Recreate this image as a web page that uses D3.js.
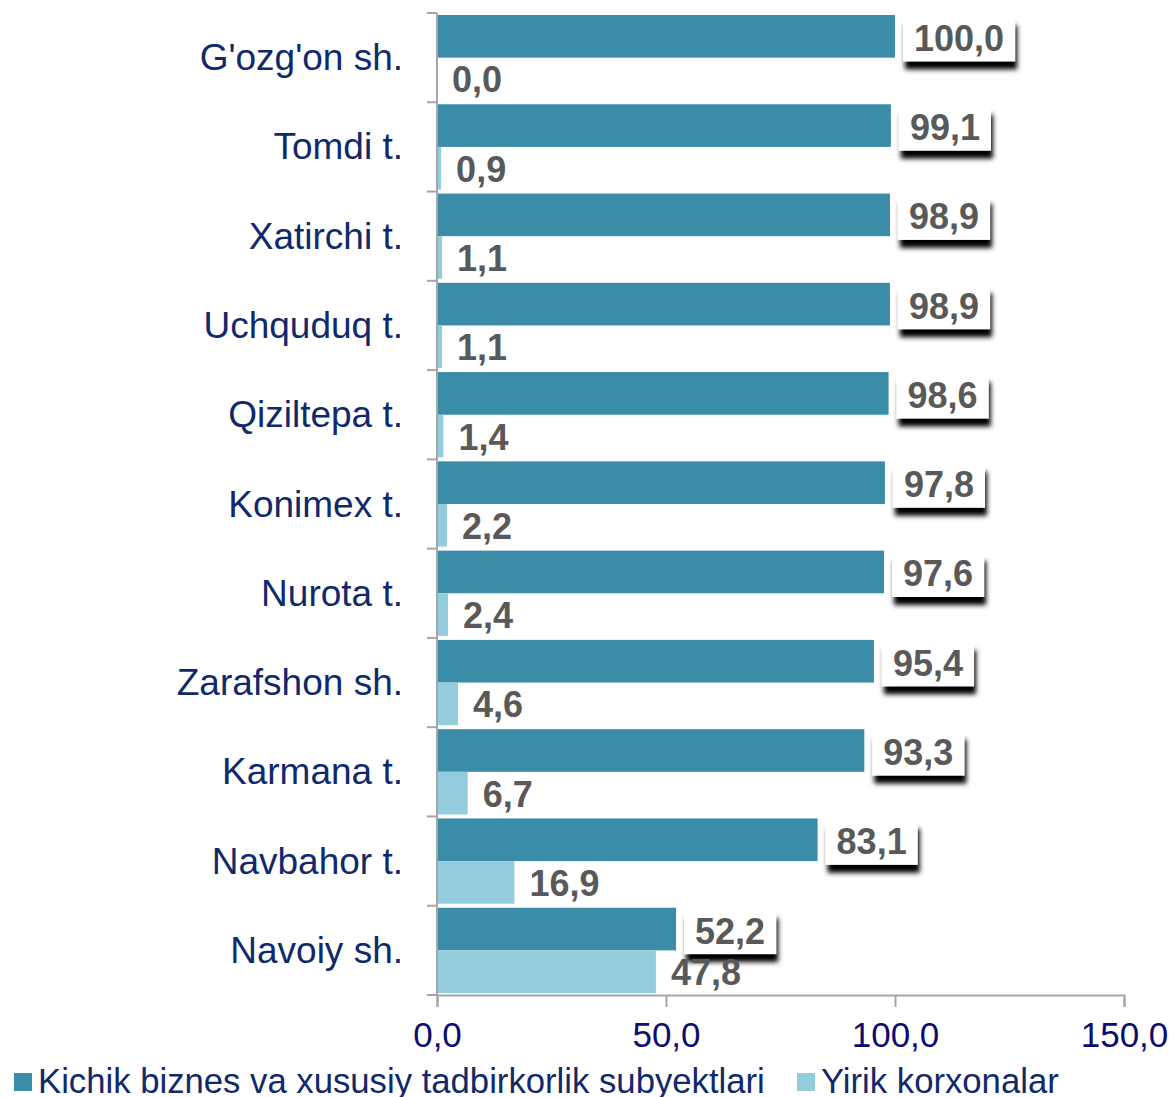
<!DOCTYPE html>
<html>
<head>
<meta charset="utf-8">
<script src="https://cdn.jsdelivr.net/npm/d3@7"></script>
<style>
  body { margin: 0; background: #fff; }
  svg { display: block; font-family: Arial, "Liberation Sans", sans-serif; }
</style>
</head>
<body>
<div id="chart"></div>
<script>
// de waarden uit de grafiek
const categories = ["G'ozg'on sh.", "Tomdi t.", "Xatirchi t.", "Uchquduq t.", "Qiziltepa t.",
  "Konimex t.", "Nurota t.", "Zarafshon sh.", "Karmana t.", "Navbahor t.", "Navoiy sh."];
const smallBiz = [100.0, 99.1, 98.9, 98.9, 98.6, 97.8, 97.6, 95.4, 93.3, 83.1, 52.2];
const largeEnt = [0.0, 0.9, 1.1, 1.1, 1.4, 2.2, 2.4, 4.6, 6.7, 16.9, 47.8];
const seriesNames = ["Kichik biznes va xususiy tadbirkorlik subyektlari", "Yirik korxonalar"];
const xTicks = [0, 50, 100, 150];

const width = 1174, height = 1097;
const colors = ["#3a8ca7", "#93cddd"];
const fmt = d => d.toFixed(1).replace(".", ",");

const svg = d3.select("#chart").append("svg")
    .attr("width", width)
    .attr("height", height);

// schaduw voor de witte labels
const defs = svg.append("defs");
const filter = defs.append("filter").attr("id", "shadow")
    .attr("x", "-20%").attr("y", "-20%").attr("width", "150%").attr("height", "180%");
filter.append("feDropShadow")
    .attr("dx", 2).attr("dy", 8).attr("stdDeviation", 2.5)
    .attr("flood-color", "#000").attr("flood-opacity", 1);

// schalen
const xScale = d3.scaleLinear().domain([0, 150]).range([437, 1124]);
const yScale = d3.scaleBand().domain(categories).range([13, 995]).padding(0);
const sub = d3.scaleBand().domain([0, 1]).range([2, yScale.bandwidth() - 2]).padding(0);

// x-as
const xAxis = svg.append("g")
    .attr("transform", "translate(0,995)")
    .call(d3.axisBottom(xScale).tickValues(xTicks).tickSize(12).tickPadding(15).tickFormat(fmt));
xAxis.select(".domain").attr("stroke", "#a6a6a6").attr("stroke-width", 2);
xAxis.selectAll(".tick line").attr("stroke", "#a6a6a6").attr("stroke-width", 2);
xAxis.selectAll(".tick text")
    .attr("fill", "#0c0c6e")
    .attr("font-size", 35)
    .attr("font-family", "Arial, 'Liberation Sans', sans-serif");

// y-as: lijn met streepjes op de grenzen van de categorieen
const yAxis = svg.append("g");
yAxis.append("line")
    .attr("x1", xScale(0)).attr("x2", xScale(0))
    .attr("y1", yScale.range()[0]).attr("y2", yScale.range()[1])
    .attr("stroke", "#a6a6a6").attr("stroke-width", 2);
const bounds = categories.map(c => yScale(c)).concat([yScale.range()[1]]);
yAxis.selectAll(".ytick").data(bounds).enter().append("line")
    .attr("x1", xScale(0) - 10).attr("x2", xScale(0))
    .attr("y1", d => d).attr("y2", d => d)
    .attr("stroke", "#a6a6a6").attr("stroke-width", 2);

yAxis.selectAll(".cat").data(categories).enter().append("text")
    .attr("x", 403)
    .attr("y", d => yScale(d) + yScale.bandwidth() / 2)
    .attr("text-anchor", "end")
    .attr("dominant-baseline", "central")
    .attr("font-size", 37)
    .attr("fill", "#10296b")
    .text(d => d);

// balken
const rows = categories.map((c, i) => ({cat: c, vals: [smallBiz[i], largeEnt[i]]}));
const groups = svg.selectAll(".row").data(rows).enter().append("g")
    .attr("transform", d => "translate(0," + yScale(d.cat) + ")");

groups.selectAll("rect.bar").data(d => d.vals.map((v, k) => ({v: v, k: k}))).enter().append("rect")
    .attr("class", "bar")
    .attr("x", xScale(0) + 1)
    .attr("y", d => sub(d.k))
    .attr("width", d => Math.max(0, xScale(d.v) - xScale(0) - 1))
    .attr("height", sub.bandwidth())
    .attr("fill", d => colors[d.k]);

// labels van de donkere balken: wit kader met schaduw
groups.each(function(d) {
  const g = d3.select(this);
  const cy = sub(0) + sub.bandwidth() / 2;
  const x0 = xScale(d.vals[0]);
  const lbl = g.append("g");
  const box = lbl.append("rect").attr("fill", "#fff").attr("filter", "url(#shadow)");
  const t = lbl.append("text")
      .attr("x", x0 + 19)
      .attr("y", cy + 2)
      .attr("dominant-baseline", "central")
      .attr("font-size", 36)
      .attr("font-weight", "bold")
      .attr("fill", "#595959")
      .text(fmt(d.vals[0]));
  const w = t.node().getComputedTextLength();
  box.attr("x", x0 + 8).attr("y", cy - 19).attr("width", w + 22).attr("height", 44);
});

// labels van de lichte balken, bovenop de schaduwen
svg.append("g").selectAll("text").data(rows).enter().append("text")
    .attr("x", d => xScale(d.vals[1]) + 15)
    .attr("y", d => yScale(d.cat) + sub(1) + sub.bandwidth() / 2 + 1)
    .attr("dominant-baseline", "central")
    .attr("font-size", 36)
    .attr("font-weight", "bold")
    .attr("fill", "#595959")
    .text(d => fmt(d.vals[1]));

// legenda
const legendX = [14, 797];
const legend = svg.selectAll(".legend").data(seriesNames).enter().append("g")
    .attr("transform", (d, i) => "translate(" + legendX[i] + ",1073)");
legend.append("rect").attr("width", 18).attr("height", 18).attr("fill", (d, i) => colors[i]);
legend.append("text")
    .attr("x", 24).attr("y", 8)
    .attr("dominant-baseline", "central")
    .attr("font-size", 34.7)
    .attr("fill", "#10296b")
    .text(d => d);
</script>
</body>
</html>
